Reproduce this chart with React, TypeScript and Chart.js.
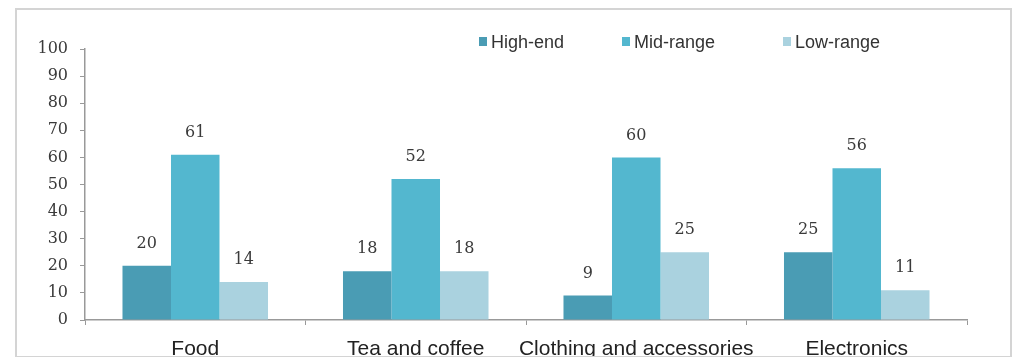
import React, { useEffect, useRef } from "react";
import { Chart, registerables } from "chart.js";

Chart.register(...registerables);

const categories = ["Food", "Tea and coffee", "Clothing and accessories", "Electronics"];
const seriesNames = ["High-end", "Mid-range", "Low-range"];
const highEnd = [20, 18, 9, 25];
const midRange = [61, 52, 60, 56];
const lowRange = [14, 18, 25, 11];
const seriesColors = ["#4a9cb4", "#53b7cf", "#aad2df"];
const yTicks = [0, 10, 20, 30, 40, 50, 60, 70, 80, 90, 100];

const serifFont = "'DejaVu Serif', 'Liberation Serif', serif";
const sansFont = "'Liberation Sans', Arial, sans-serif";

const valueLabels = {
  id: "valueLabels",
  afterDatasetsDraw(chart: any) {
    const ctx = chart.ctx;
    ctx.save();
    ctx.font = `16px ${serifFont}`;
    ctx.fillStyle = "#3a3a3a";
    ctx.textAlign = "center";
    ctx.textBaseline = "middle";
    chart.data.datasets.forEach((ds: any, i: number) => {
      const meta = chart.getDatasetMeta(i);
      meta.data.forEach((el: any, j: number) => {
        ctx.fillText(String(ds.data[j]), el.x, el.y - 22);
      });
    });
    ctx.restore();
  },
};

const customLegend = {
  id: "customLegend",
  afterDraw(chart: any) {
    const ctx = chart.ctx;
    const boxX = [479, 622, 783];
    const y = 42;
    ctx.save();
    ctx.font = `18px ${sansFont}`;
    ctx.textBaseline = "middle";
    ctx.textAlign = "left";
    chart.data.datasets.forEach((ds: any, i: number) => {
      ctx.fillStyle = ds.backgroundColor;
      ctx.fillRect(boxX[i], y - 5, 8, 9);
      ctx.fillStyle = "#333";
      ctx.fillText(ds.label, boxX[i] + 12, y + 1);
    });
    ctx.restore();
  },
};

export default function App() {
  const ref = useRef<HTMLCanvasElement | null>(null);

  useEffect(() => {
    document.body.style.margin = "0";
    if (!ref.current) return;
    const data = [highEnd, midRange, lowRange];
    const chart = new Chart(ref.current, {
      type: "bar",
      data: {
        labels: categories,
        datasets: seriesNames.map((name, i) => ({
          label: name,
          data: data[i],
          backgroundColor: seriesColors[i],
          borderWidth: 0,
          categoryPercentage: 0.66,
          barPercentage: 1.0,
        })),
      },
      options: {
        animation: false,
        responsive: false,
        maintainAspectRatio: false,
        layout: { padding: { top: 49, right: 47, bottom: 0, left: 0 } },
        plugins: {
          legend: { display: false },
          tooltip: { enabled: false },
          title: { display: false },
        },
        scales: {
          x: {
            grid: {
              display: true,
              drawOnChartArea: false,
              drawTicks: true,
              tickLength: 5,
              color: "#999",
              offset: true,
            },
            border: { display: true, color: "#999", width: 1.5 },
            ticks: {
              font: { family: sansFont, size: 21 },
              color: "#222",
              padding: 12,
              maxRotation: 0,
              autoSkip: false,
            },
            afterFit(scale: any) {
              scale.height = 37;
            },
          },
          y: {
            min: 0,
            max: 100,
            afterBuildTicks(scale: any) {
              scale.ticks = yTicks.map((v) => ({ value: v }));
            },
            grid: {
              display: true,
              drawOnChartArea: false,
              drawTicks: true,
              tickLength: 5,
              color: "#999",
            },
            border: { display: true, color: "#999", width: 1.5 },
            ticks: {
              font: { family: serifFont, size: 16 },
              color: "#3a3a3a",
              padding: 12,
            },
            afterFit(scale: any) {
              scale.width = 85;
            },
          },
        },
      },
      plugins: [valueLabels, customLegend],
    });
    return () => chart.destroy();
  }, []);

  return (
    <div style={{ position: "relative", width: 1014, height: 357, background: "#fff", overflow: "hidden" }}>
      <canvas ref={ref} width={1014} height={357} style={{ position: "absolute", left: 0, top: 0 }} />
      <div
        style={{
          position: "absolute",
          left: 15,
          top: 8,
          width: 993,
          height: 346,
          border: "2px solid #d4d4d4",
          pointerEvents: "none",
        }}
      />
    </div>
  );
}
